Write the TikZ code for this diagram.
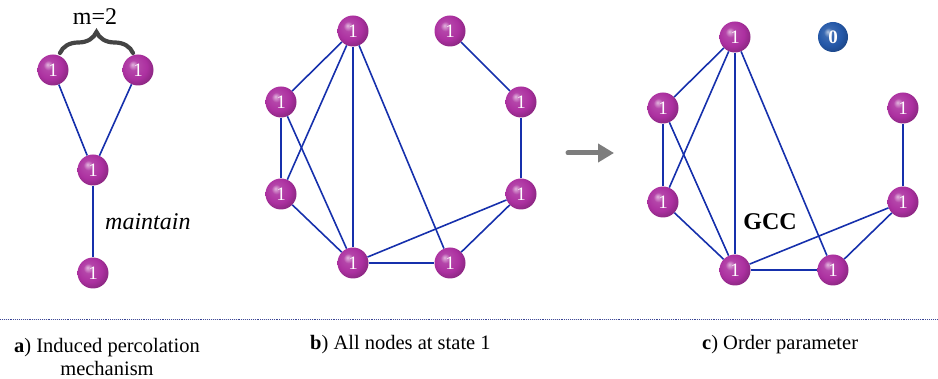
\documentclass[tikz,border=0pt]{standalone}
\usepackage{fontspec}
\setmainfont{Liberation Serif}
\usetikzlibrary{decorations.pathreplacing,arrows.meta}
\definecolor{nodepurple}{RGB}{172,48,160}
\definecolor{nodeblue}{RGB}{36,88,168}
\definecolor{edgeblue}{RGB}{22,48,172}
\definecolor{bracegray}{RGB}{68,68,68}
\definecolor{arrowgray}{RGB}{125,125,125}
\definecolor{dotblue}{RGB}{60,70,150}
\colorlet{pHi}{nodepurple!35!white}
\colorlet{pMid}{nodepurple!90!white}
\colorlet{pLo}{nodepurple!80!black}
\colorlet{pEdge}{nodepurple!60!black}
\colorlet{bHi}{nodeblue!35!white}
\colorlet{bMid}{nodeblue!90!white}
\colorlet{bLo}{nodeblue!80!black}
\colorlet{bEdge}{nodeblue!60!black}
\pgfdeclareradialshading{purpleball}{\pgfqpoint{-9bp}{9bp}}{color(0bp)=(pHi); color(8bp)=(pMid); color(20bp)=(nodepurple); color(30bp)=(pLo); color(50bp)=(pEdge)}
\pgfdeclareradialshading{blueball}{\pgfqpoint{-9bp}{9bp}}{color(0bp)=(bHi); color(8bp)=(bMid); color(20bp)=(nodeblue); color(30bp)=(bLo); color(50bp)=(bEdge)}
\begin{document}
\begin{tikzpicture}[x=1pt,y=-1pt,
  vtx/.style={circle,minimum size=31pt,inner sep=0pt,shading=purpleball,
    text=white,font=\fontsize{19}{19}\selectfont},
  zvtx/.style={vtx,shading=blueball,minimum size=30pt,font=\fontsize{19}{19}\selectfont\bfseries},
  edge/.style={draw=edgeblue,line width=1.6pt},
  lbl/.style={inner sep=0pt,font=\fontsize{24}{26}\selectfont},
  captxt/.style={inner sep=0pt,font=\fontsize{20.5}{22.5}\selectfont}]
\useasboundingbox (0,0) rectangle (938,379);

% ---- panel a
\node[vtx] (a1) at (53,70) {1};
\node[vtx] (a2) at (138,70) {1};
\node[vtx] (a3) at (93,170) {1};
\node[vtx] (a4) at (93,273) {1};
\draw[edge] (a1) -- (a3);
\draw[edge] (a2) -- (a3);
\draw[edge] (a3) -- (a4);
\coordinate (bl) at (60,53);
\coordinate (br) at (133,53);
\draw[bracegray,line width=4.2pt,line cap=round,decorate,decoration={brace,amplitude=21pt,aspect=0.5}] (bl) -- (br);
\node[lbl] (m) at (95,17) {m=2};
\node[lbl,anchor=west] (mt) at (105,222) {\textit{maintain}};

% ---- panel b
\node[vtx] (bT)  at (353,31) {1};
\node[vtx] (bTR) at (450,31) {1};
\node[vtx] (bLU) at (281,102) {1};
\node[vtx] (bRU) at (521,102) {1};
\node[vtx] (bLL) at (281,194) {1};
\node[vtx] (bRL) at (521,194) {1};
\node[vtx] (bBL) at (353,263) {1};
\node[vtx] (bBR) at (450,263) {1};
\foreach \u/\v in {bT/bLU,bT/bLL,bT/bBL,bT/bBR,bLU/bLL,bLU/bBL,bLL/bBL,bBL/bBR,bBL/bRL,bBR/bRL,bRL/bRU,bRU/bTR}
  \draw[edge] (\u) -- (\v);

% ---- arrow
\coordinate (arS) at (568,153);
\coordinate (arE) at (614,153);
\draw[arrowgray,line width=5pt,line cap=round,-{Triangle[length=16pt,width=18pt]}] (arS) -- (arE);

% ---- panel c
\node[vtx]  (cT)  at (735,37) {1};
\node[zvtx] (cZ)  at (833,37) {0};
\node[vtx]  (cLU) at (663,108) {1};
\node[vtx]  (cRU) at (903,108) {1};
\node[vtx]  (cLL) at (663,202) {1};
\node[vtx]  (cRL) at (903,202) {1};
\node[vtx]  (cBL) at (735,270) {1};
\node[vtx]  (cBR) at (833,270) {1};
\foreach \u/\v in {cT/cLU,cT/cLL,cT/cBL,cT/cBR,cLU/cLL,cLU/cBL,cLL/cBL,cBL/cBR,cBL/cRL,cBR/cRL,cRL/cRU}
  \draw[edge] (\u) -- (\v);
\node[lbl] (gcc) at (770,222) {\bfseries GCC};

% ---- separator
\coordinate (sepL) at (0,319);
\coordinate (sepR) at (938,319);
\draw[dotblue,line width=0.9pt,densely dotted] (sepL) -- (sepR);

% ---- captions
\node[captxt,align=center] (capa) at (107,357) {\textbf{a}) Induced percolation\\mechanism};
\node[captxt,anchor=west] (capb) at (310,345) {\textbf{b}) All nodes at state 1};
\node[captxt,anchor=west] (capc) at (702,345) {\textbf{c}) Order parameter};
\end{tikzpicture}
\end{document}
